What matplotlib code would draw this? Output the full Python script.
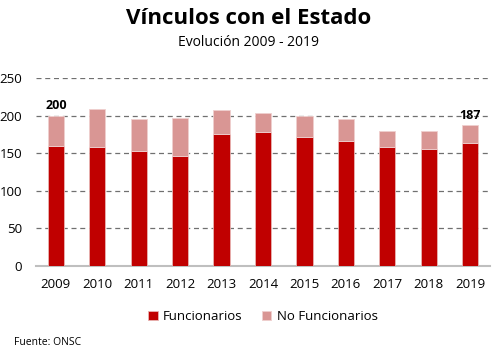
import matplotlib.pyplot as plt
import numpy as np

# Datos
anios = ['2009', '2010', '2011', '2012', '2013', '2014', '2015', '2016', '2017', '2018', '2019']
funcionarios = [160, 158, 153, 146, 175, 178, 172, 166, 158, 155, 163]
no_funcionarios = [40, 51, 43, 51, 33, 25, 27, 30, 22, 25, 24]

plt.rcParams['font.family'] = ['Open Sans', 'DejaVu Sans']

fig = plt.figure(figsize=(5, 3.55), dpi=100)
ax = fig.add_axes([0.072, 0.251, 0.908, 0.529])

x = np.arange(len(anios))
rojo = '#C00000'
rosa = '#D99694'

ax.bar(x, funcionarios, width=0.39, color=rojo, edgecolor='#E8B4B2', linewidth=0.6,
       label='Funcionarios', zorder=3)
ax.bar(x, no_funcionarios, width=0.39, bottom=funcionarios, color=rosa,
       edgecolor='#EFCFCE', linewidth=0.6, label='No Funcionarios', zorder=3)

# Etiquetas de total en el primer y último año
totales = [f + n for f, n in zip(funcionarios, no_funcionarios)]
for i in (0, len(anios) - 1):
    ax.text(x[i], totales[i] + 5, str(totales[i]), ha='center', va='bottom',
            fontsize=9, fontweight='bold', zorder=4)

ax.set_xlim(-0.48, len(anios) - 0.52)
ax.set_ylim(0, 250)
ax.set_yticks(range(0, 251, 50))
ax.set_xticks(x)
ax.set_xticklabels(anios)
ax.tick_params(axis='both', length=0, labelsize=9.5)
ax.tick_params(axis='x', pad=9)
ax.tick_params(axis='y', pad=10)

ax.yaxis.grid(True, linestyle=(0, (4, 3)), color='#707070', linewidth=0.9, zorder=0)
for s in ('left', 'right', 'top'):
    ax.spines[s].set_visible(False)
ax.spines['bottom'].set_color('#BFBFBF')
ax.spines['bottom'].set_linewidth(1.5)

fig.text(0.497, 0.947, 'Vínculos con el Estado', ha='center', va='center',
         fontsize=16, fontweight='bold')
fig.text(0.497, 0.88, 'Evolución 2009 - 2019', ha='center', va='center', fontsize=10)

ax.legend(loc='center', bbox_to_anchor=(0.5, -0.27), ncol=2, frameon=False,
          fontsize=9.5, handlelength=0.7, handleheight=0.7, columnspacing=1.5,
          handletextpad=0.4)

fig.text(0.028, 0.035, 'Fuente: ONSC', ha='left', va='center', fontsize=7.5)

fig.savefig('out.png', dpi=100)
